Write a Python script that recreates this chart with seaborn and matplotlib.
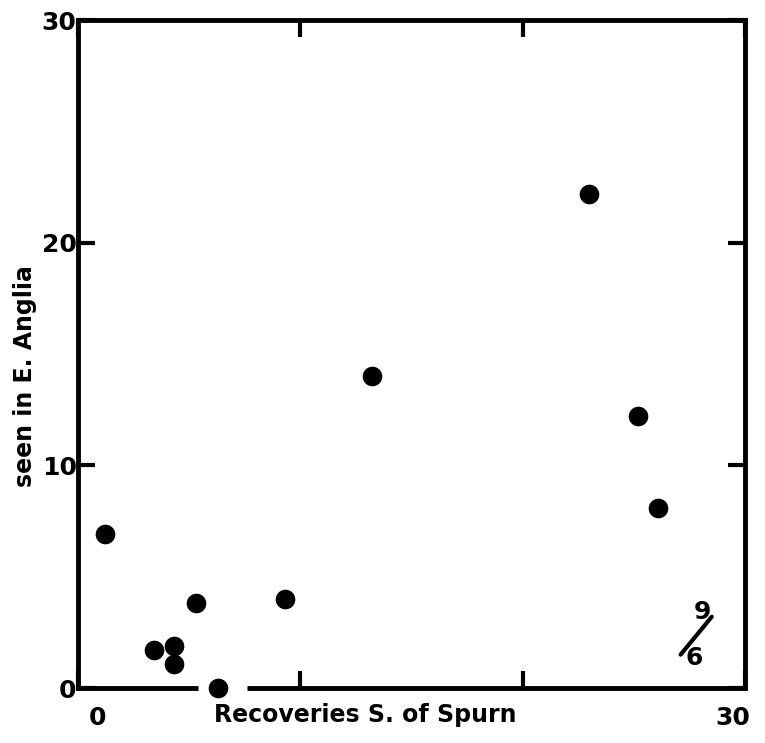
import matplotlib
matplotlib.use("Agg")
import seaborn as sns
from matplotlib import pyplot as plt
from matplotlib.transforms import ScaledTranslation

# recoveries south of Spurn vs. seen in E. Anglia
spurn = [1.2, 3.4, 4.3, 4.3, 5.3, 6.3, 9.3, 13.2, 23.0, 25.2, 26.1]
anglia = [6.9, 1.7, 1.9, 1.1, 3.8, 0.0, 4.0, 14.0, 22.2, 12.2, 8.1]

x_ticks = [0, 10, 20, 30]
x_labels = ["0", "", "", "30"]
y_ticks = [0, 10, 20, 30]
y_labels = ["0", "10", "20", "30"]

sns.set_style("white")
plt.rcParams["font.family"] = ["DejaVu Sans"]
plt.rcParams["font.weight"] = "bold"
plt.rcParams["text.color"] = "black"
plt.rcParams["axes.labelcolor"] = "black"
plt.rcParams["xtick.color"] = "black"
plt.rcParams["ytick.color"] = "black"

fig = plt.figure(figsize=(7.65, 7.43), dpi=100)
ax = fig.add_axes([0.102, 0.074, 0.872, 0.899])

sns.scatterplot(x=spurn, y=anglia, ax=ax, color="black", s=200,
                edgecolor="black", linewidth=0, zorder=3, clip_on=False)

ax.set_xlim(0, 30)
ax.set_ylim(0, 30)
for side in ["top", "right", "left"]:
    ax.spines[side].set_linewidth(3.5)
    ax.spines[side].set_color("black")
ax.spines["bottom"].set_visible(False)
# bottom axis line is broken around the point sitting on zero
ax.axhline(0, xmin=0, xmax=0.18, color="black", lw=3.5, clip_on=False,
           solid_capstyle="butt")
ax.axhline(0, xmin=0.253, xmax=1, color="black", lw=3.5, clip_on=False,
           solid_capstyle="butt")

ax.set_xticks(x_ticks)
ax.set_xticklabels(x_labels)
ax.set_yticks(y_ticks)
ax.set_yticklabels(y_labels)
ax.tick_params(axis="both", direction="in", length=12, width=3,
               labelsize=18, color="black", labelcolor="black")
ax.tick_params(axis="x", top=True, bottom=True, pad=13)
ax.tick_params(axis="y", left=True, right=True, pad=1)

# nudge the two x tick labels like in the original
lbls = ax.get_xticklabels()
lbls[0].set_transform(lbls[0].get_transform() +
                      ScaledTranslation(0.19, 0, fig.dpi_scale_trans))
lbls[-1].set_transform(lbls[-1].get_transform() +
                       ScaledTranslation(-0.12, 0, fig.dpi_scale_trans))

ax.set_xlabel("Recoveries S. of Spurn", fontsize=17, fontweight="bold")
ax.xaxis.set_label_coords(0.43, -0.022)
ax.set_ylabel("seen in E. Anglia", fontsize=17, fontweight="bold")
ax.yaxis.set_label_coords(-0.062, 0.467)

# little symbol in lower right corner
ax.text(28.1, 3.4, "9", fontsize=18, fontweight="bold", ha="center", va="center")
ax.text(27.7, 1.35, "6", fontsize=18, fontweight="bold", ha="center", va="center")
ax.plot([28.5, 27.1], [3.2, 1.5], color="black", lw=3)

fig.savefig("out.png", dpi=100)
